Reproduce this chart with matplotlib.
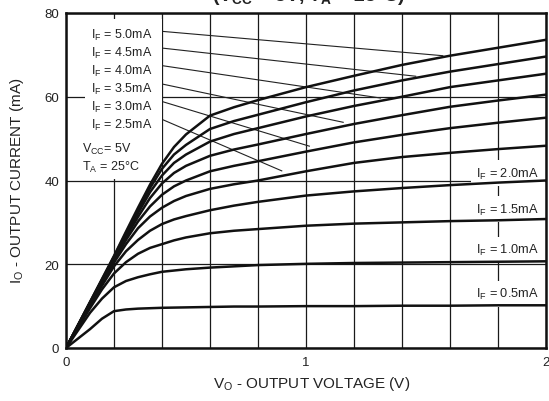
import matplotlib
matplotlib.use('Agg')
import matplotlib.pyplot as plt
from matplotlib.patches import Rectangle
import numpy as np

plt.rcParams['font.family'] = ['Liberation Sans', 'DejaVu Sans']
plt.rcParams['mathtext.fontset'] = 'custom'
plt.rcParams['mathtext.rm'] = 'Liberation Sans'
plt.rcParams['mathtext.bf'] = 'Liberation Sans:bold'

# Output voltage (V)
V = [0, 0.1, 0.15, 0.2, 0.25, 0.3, 0.35, 0.4, 0.45, 0.5, 0.6, 0.7, 0.8, 1.0, 1.2, 1.4, 1.6, 1.8, 2.0]

# Output current (mA) per forward current I_F
I_5_0 = [0, 11.0, 16.5, 22.0, 27.8, 33.5, 39.0, 44.0, 48.0, 51.0, 55.5, 57.5, 59.2, 62.3, 65.0, 67.6, 69.8, 71.7, 73.6]
I_4_5 = [0, 10.9, 16.3, 21.8, 27.4, 32.8, 38.2, 42.8, 46.2, 48.5, 52.3, 54.2, 55.7, 58.7, 61.5, 63.9, 66.0, 67.8, 69.6]
I_4_0 = [0, 10.8, 16.2, 21.6, 27.0, 32.2, 37.2, 41.2, 44.2, 46.2, 49.3, 51.1, 52.5, 55.3, 57.8, 60.0, 62.3, 63.9, 65.5]
I_3_5 = [0, 10.7, 16.0, 21.3, 26.5, 31.3, 35.8, 39.3, 41.8, 43.5, 45.9, 47.4, 48.6, 51.1, 53.5, 55.6, 57.6, 59.1, 60.5]
I_3_0 = [0, 10.5, 15.7, 20.9, 25.8, 30.2, 33.8, 36.6, 38.6, 40.0, 42.2, 43.5, 44.6, 46.9, 49.1, 50.9, 52.5, 53.8, 55.0]
I_2_5 = [0, 10.3, 15.4, 20.4, 24.8, 28.6, 31.4, 33.5, 35.1, 36.3, 38.0, 39.1, 40.0, 42.2, 44.2, 45.6, 46.6, 47.5, 48.3]
I_2_0 = [0, 10.0, 14.9, 19.5, 23.1, 25.8, 28.0, 29.6, 30.7, 31.5, 32.9, 34.0, 34.9, 36.4, 37.4, 38.2, 38.9, 39.5, 40.0]
I_1_5 = [0, 9.5, 14.0, 17.8, 20.5, 22.5, 23.9, 24.8, 25.7, 26.4, 27.4, 28.0, 28.4, 29.2, 29.7, 30.0, 30.3, 30.5, 30.8]
I_1_0 = [0, 8.4, 11.8, 14.5, 16.0, 16.9, 17.6, 18.2, 18.5, 18.8, 19.2, 19.5, 19.8, 20.1, 20.3, 20.4, 20.5, 20.6, 20.7]
I_0_5 = [0, 4.5, 7.0, 8.8, 9.2, 9.4, 9.5, 9.6, 9.65, 9.7, 9.8, 9.9, 9.9, 10.0, 10.0, 10.1, 10.1, 10.2, 10.2]

series = [I_5_0, I_4_5, I_4_0, I_3_5, I_3_0, I_2_5, I_2_0, I_1_5, I_1_0, I_0_5]

# Left labels with leader lines
left_labels = ['5.0mA', '4.5mA', '4.0mA', '3.5mA', '3.0mA', '2.5mA']
left_label_y = [74.9, 70.6, 66.3, 62.0, 57.7, 53.3]
leader_start = [(0.404, 75.6), (0.404, 71.6), (0.404, 67.4), (0.404, 63.0), (0.404, 58.8), (0.404, 54.5)]
leader_end = [(1.57, 69.8), (1.457, 64.9), (1.31, 59.7), (1.155, 53.9), (1.014, 48.2), (0.899, 42.3)]

right_labels = ['2.0mA', '1.5mA', '1.0mA', '0.5mA']
right_label_y = [41.8, 33.1, 23.5, 13.0]

fig = plt.figure(figsize=(5.49, 4.02), dpi=100)
ax = fig.add_axes([66/549, 1-349/402, 480/549, 335/402])

ax.set_xlim(0, 2)
ax.set_ylim(0, 80)
ax.set_xticks([0, 1, 2])
ax.set_xticks(np.arange(0, 2.01, 0.2), minor=True)
ax.set_yticks([0, 20, 40, 60, 80])
ax.set_axisbelow(True)
ax.grid(True, which='both', axis='x', color='#1a1a1a', lw=0.9)
ax.grid(True, which='major', axis='y', color='#1a1a1a', lw=0.9)
ax.tick_params(which='both', length=0, labelsize=9.5, colors='#222')
ax.tick_params(axis='x', pad=6)
ax.tick_params(axis='y', pad=5)
for s in ax.spines.values():
    s.set_linewidth(1.8)
    s.set_color('#111')

# white area behind the upper-left labels
ax.add_patch(Rectangle((0.08, 40.4), 0.322, 38.2, facecolor='white', edgecolor='none', zorder=1))

for ys in series:
    ax.plot(V, ys, color='#111', lw=1.8, zorder=4)

for t, y, (x0, y0), (x1, y1) in zip(left_labels, left_label_y, leader_start, leader_end):
    ax.text(0.36, y, r'I$_\mathregular{F}$ = ' + t, ha='right', va='center', fontsize=9, color='#222', zorder=3)
    ax.plot([x0, x1], [y0, y1], color='#222', lw=0.8, zorder=3)

ax.text(0.068, 47.6, r'V$_\mathregular{CC}$= 5V', ha='left', va='center', fontsize=9, color='#222', zorder=3)
ax.text(0.068, 43.3, r'T$_\mathregular{A}$ = 25°C', ha='left', va='center', fontsize=9, color='#222', zorder=3)

for t, y in zip(right_labels, right_label_y):
    ax.text(1.971, y, r'I$_\mathregular{F}$ = ' + t, ha='right', va='center', fontsize=9.2, color='#222', zorder=3,
            bbox=dict(facecolor='white', edgecolor='none', pad=4))

fig.text(312/549, 1-384/402, r'V$_\mathregular{O}$ - OUTPUT VOLTAGE (V)', ha='center', va='center', fontsize=11, color='#222')
fig.text(17/549, 1-181/402, r'I$_\mathregular{O}$ - OUTPUT CURRENT (mA)', ha='center', va='center', rotation=90, fontsize=11, color='#222')
fig.text(308/549, 1-0.8/402, r'(V$_\mathregular{CC}$ = 5V, T$_\mathregular{A}$ = 25°C)', ha='center', va='baseline',
         fontsize=14, fontweight='bold', color='#222')

fig.savefig('out.png', dpi=100)
